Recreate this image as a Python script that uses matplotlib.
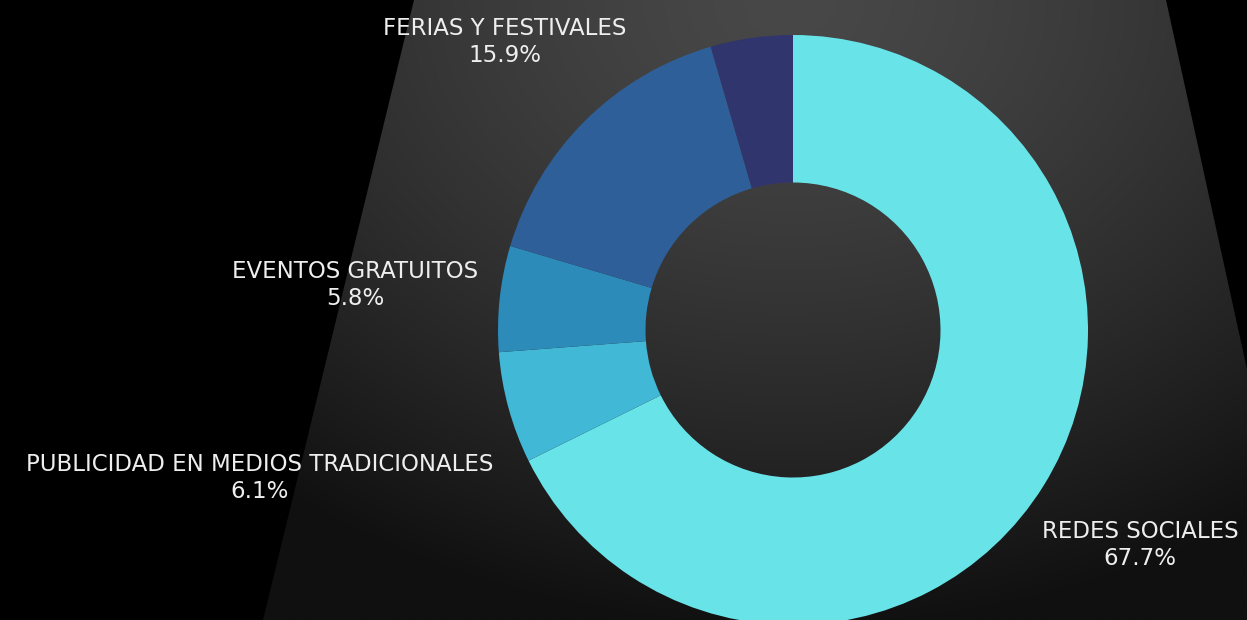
import numpy as np
import matplotlib
matplotlib.use("Agg")
import matplotlib.pyplot as plt
from matplotlib.patches import Polygon

# ---- data ----
categories = ["REDES SOCIALES", "PUBLICIDAD EN MEDIOS TRADICIONALES",
              "EVENTOS GRATUITOS", "FERIAS Y FESTIVALES", ""]
values = [67.7, 6.1, 5.8, 15.9, 4.5]
colors = ["#68e4e8", "#41b8d5", "#2d8bba", "#2f5f98", "#31356e"]

W, H = 1247, 620
CX, CY, R = 793, 330, 295  # pixel geometry of the donut


def px(x, y):
    return (x - CX) / R, (CY - y) / R


fig = plt.figure(figsize=(W / 100, H / 100), dpi=100, facecolor="black")
ax = fig.add_axes([0, 0, 1, 1])
ax.set_facecolor("black")
x0, y1 = px(0, 0)
x1, y0 = px(W, H)
ax.set_xlim(x0, x1)
ax.set_ylim(y0, y1)
ax.set_aspect("equal")
ax.axis("off")

# ---- spotlight background ----
gx = np.linspace(0, W, 400)
gy = np.linspace(0, H, 200)
GX, GY = np.meshgrid(gx, gy)
d = np.sqrt(((GX - 790) / 1.3) ** 2 + GY ** 2)
v = 72 - 52 * (d / 600) ** 1.4
v = np.clip(v, 16, 80) / 255.0
img = np.dstack([v, v, v])
im = ax.imshow(img, extent=(x0, x1, y0, y1), origin="upper", zorder=0,
               interpolation="bilinear")
trap = Polygon([px(414, 0), px(1166, 0), px(1302, 620), px(263, 620)],
               closed=True, transform=ax.transData, facecolor="none",
               edgecolor="none")
ax.add_patch(trap)
im.set_clip_path(trap)

# ---- donut ----
wedges, _ = ax.pie(values, colors=colors, startangle=90, counterclock=False,
                   radius=1.0, center=(0, 0),
                   wedgeprops=dict(width=0.5, edgecolor="none", linewidth=0))
for w in wedges:
    w.set_zorder(2)
ax.set_xlim(x0, x1)
ax.set_ylim(y0, y1)

# ---- labels ----
label_pos = {0: (1140, 545), 1: (260, 478), 2: (355, 285), 3: (505, 42)}
for i, (cat, val) in enumerate(zip(categories, values)):
    if not cat:
        continue
    lx, ly = px(*label_pos[i])
    ax.text(lx, ly, f"{cat}\n{val:.1f}%", ha="center", va="center",
            multialignment="center", color="#eeeeee", fontsize=16.5,
            family="DejaVu Sans", linespacing=1.25, zorder=3)

fig.savefig("out.png", dpi=100, facecolor="black")
